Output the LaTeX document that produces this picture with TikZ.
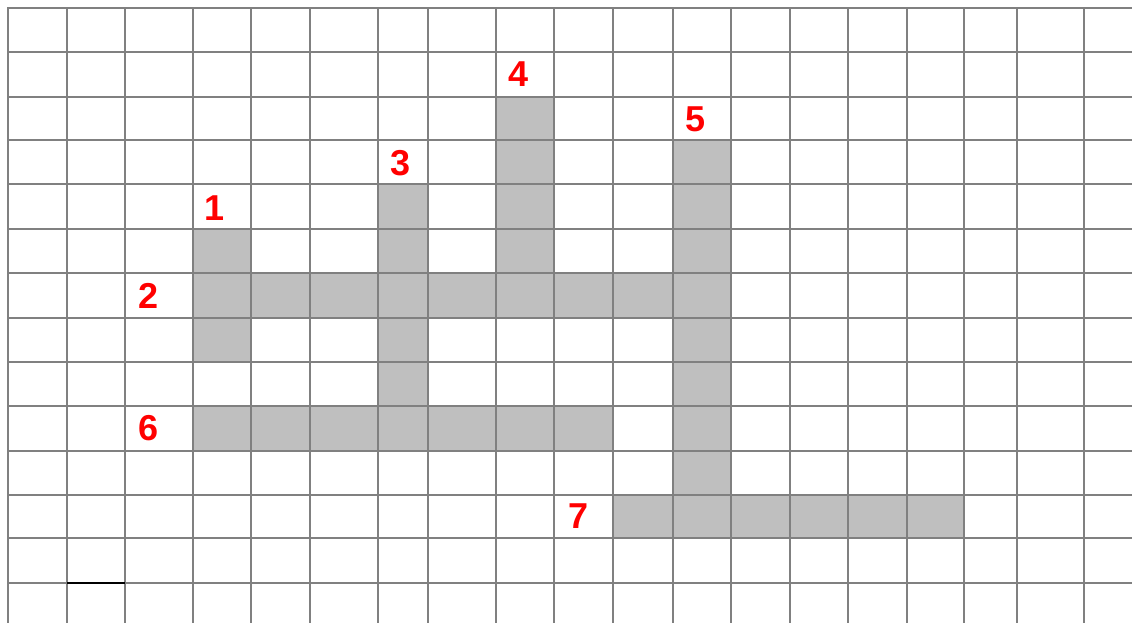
\documentclass[tikz,border=0pt]{standalone}
\usepackage{fontspec}
\setmainfont{Liberation Sans}
\begin{document}
\begin{tikzpicture}[x=1pt,y=-1pt,
    gridline/.style={draw=gray, line width=1.6pt, line cap=rect},
    cellfill/.style={fill=gray!50},
    numlabel/.style={text=red, font=\fontsize{36}{40}\selectfont\bfseries, inner sep=0pt}]
    \useasboundingbox (0,0) rectangle (1132,623);

    % Shaded cells
    \fill[cellfill] (193,229) rectangle (251,362);
    \fill[cellfill] (193,273) rectangle (731,318);
    \fill[cellfill] (378,184) rectangle (428,406);
    \fill[cellfill] (496,97) rectangle (554,318);
    \fill[cellfill] (673,140) rectangle (731,538);
    \fill[cellfill] (193,406) rectangle (613,451);
    \fill[cellfill] (613,495) rectangle (964,538);

    % Grid lines
    \foreach \x in {8,67,125,193,251,310,378,428,496,554,613,673,731,790,848,907,964,1017,1084}
        \draw[gridline] (\x,8) -- (\x,623);
    \foreach \y in {8,52,97,140,184,229,273,318,362,406,451,495,538,583}
        \draw[gridline] (8,\y) -- (1132,\y);

    % Short black mark
    \coordinate (markA) at (67,583);
    \coordinate (markB) at (125,583);
    \draw[line width=1.6pt] (markA) -- (markB);

    % Numbers
    \node[numlabel] (n1) at (215,208) {1};
    \node[numlabel] (n2) at (149,296) {2};
    \node[numlabel] (n3) at (401,163) {3};
    \node[numlabel] (n4) at (519,74) {4};
    \node[numlabel] (n5) at (696,119) {5};
    \node[numlabel] (n6) at (149,428) {6};
    \node[numlabel] (n7) at (579,516) {7};
\end{tikzpicture}
\end{document}
